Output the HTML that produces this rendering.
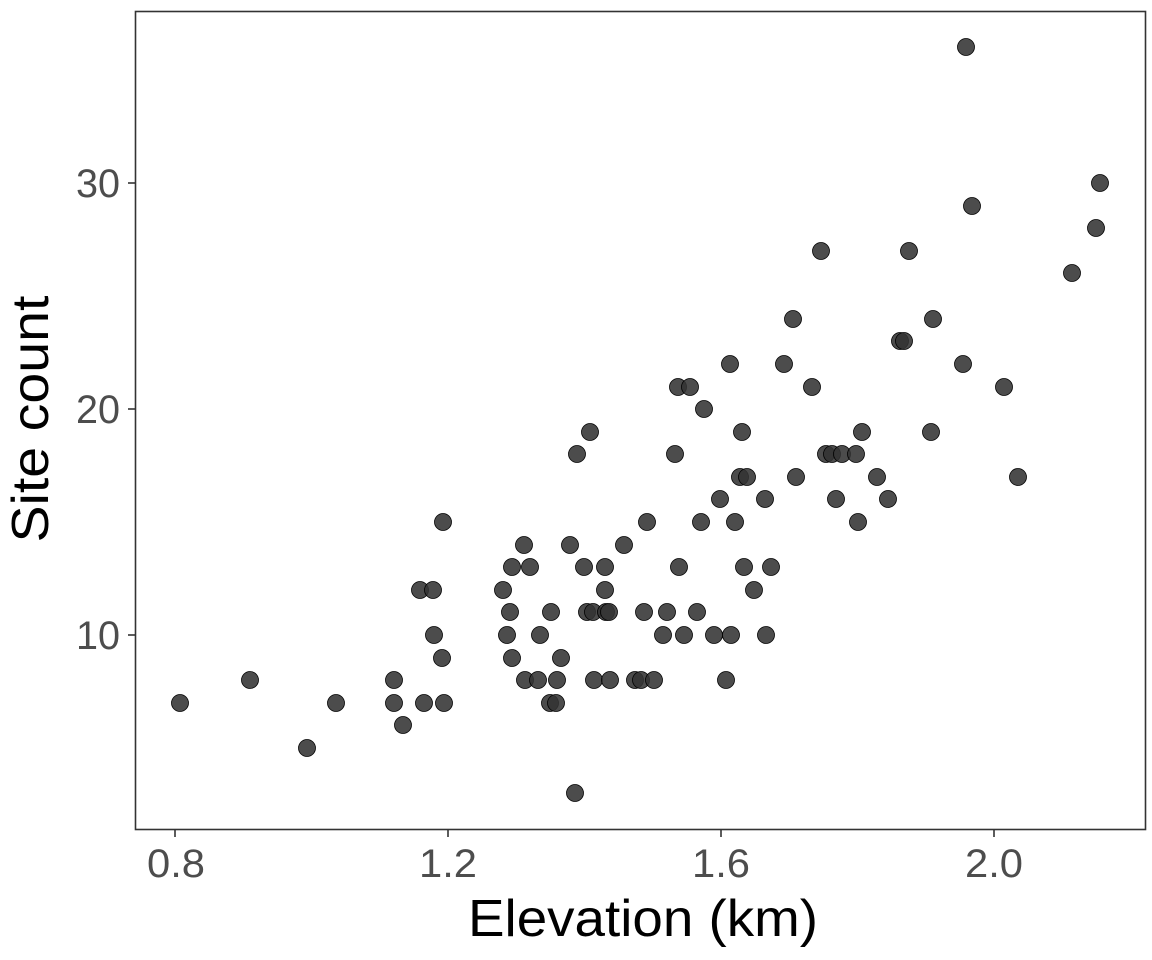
<!DOCTYPE html>
<html><head><meta charset="utf-8"><style>
html,body{margin:0;padding:0;background:#fff;}
svg{display:block;}
text{font-family:"Liberation Sans",sans-serif;}
</style></head><body>
<svg width="1152" height="960" viewBox="0 0 1152 960" xmlns="http://www.w3.org/2000/svg">
<rect x="0" y="0" width="1152" height="960" fill="#fff"/>
<g fill="#333" fill-opacity="0.88" stroke="#000" stroke-width="0.8">
<circle cx="180" cy="703" r="8.5"/><circle cx="250" cy="680" r="8.5"/><circle cx="307" cy="748" r="8.5"/><circle cx="336" cy="703" r="8.5"/><circle cx="394" cy="680" r="8.5"/><circle cx="394" cy="703" r="8.5"/><circle cx="403" cy="725" r="8.5"/><circle cx="420" cy="590" r="8.5"/><circle cx="424" cy="703" r="8.5"/><circle cx="433" cy="590" r="8.5"/><circle cx="434" cy="635" r="8.5"/><circle cx="442" cy="658" r="8.5"/><circle cx="443" cy="522" r="8.5"/><circle cx="444" cy="703" r="8.5"/>
<circle cx="503" cy="590" r="8.5"/><circle cx="507" cy="635" r="8.5"/><circle cx="510" cy="612" r="8.5"/><circle cx="512" cy="567" r="8.5"/><circle cx="512" cy="658" r="8.5"/><circle cx="524" cy="545" r="8.5"/><circle cx="525" cy="680" r="8.5"/><circle cx="530" cy="567" r="8.5"/><circle cx="538" cy="680" r="8.5"/><circle cx="540" cy="635" r="8.5"/><circle cx="551" cy="612" r="8.5"/><circle cx="550" cy="703" r="8.5"/><circle cx="556" cy="703" r="8.5"/><circle cx="557" cy="680" r="8.5"/><circle cx="561" cy="658" r="8.5"/><circle cx="570" cy="545" r="8.5"/><circle cx="577" cy="454" r="8.5"/><circle cx="575" cy="793" r="8.5"/><circle cx="584" cy="567" r="8.5"/><circle cx="587" cy="612" r="8.5"/><circle cx="590" cy="432" r="8.5"/><circle cx="593" cy="612" r="8.5"/><circle cx="594" cy="680" r="8.5"/><circle cx="605" cy="590" r="8.5"/><circle cx="605" cy="567" r="8.5"/><circle cx="606" cy="612" r="8.5"/><circle cx="609" cy="612" r="8.5"/><circle cx="610" cy="680" r="8.5"/><circle cx="624" cy="545" r="8.5"/><circle cx="635" cy="680" r="8.5"/><circle cx="641" cy="680" r="8.5"/><circle cx="644" cy="612" r="8.5"/><circle cx="647" cy="522" r="8.5"/><circle cx="654" cy="680" r="8.5"/><circle cx="663" cy="635" r="8.5"/><circle cx="667" cy="612" r="8.5"/><circle cx="675" cy="454" r="8.5"/><circle cx="678" cy="387" r="8.5"/><circle cx="679" cy="567" r="8.5"/><circle cx="684" cy="635" r="8.5"/><circle cx="690" cy="387" r="8.5"/><circle cx="697" cy="612" r="8.5"/><circle cx="701" cy="522" r="8.5"/><circle cx="704" cy="409" r="8.5"/><circle cx="714" cy="635" r="8.5"/><circle cx="720" cy="499" r="8.5"/><circle cx="726" cy="680" r="8.5"/><circle cx="730" cy="364" r="8.5"/><circle cx="731" cy="635" r="8.5"/><circle cx="735" cy="522" r="8.5"/><circle cx="740" cy="477" r="8.5"/><circle cx="742" cy="432" r="8.5"/><circle cx="744" cy="567" r="8.5"/><circle cx="747" cy="477" r="8.5"/><circle cx="754" cy="590" r="8.5"/><circle cx="765" cy="499" r="8.5"/><circle cx="766" cy="635" r="8.5"/><circle cx="771" cy="567" r="8.5"/><circle cx="784" cy="364" r="8.5"/><circle cx="793" cy="319" r="8.5"/><circle cx="796" cy="477" r="8.5"/><circle cx="812" cy="387" r="8.5"/><circle cx="821" cy="251" r="8.5"/><circle cx="826" cy="454" r="8.5"/><circle cx="832" cy="454" r="8.5"/><circle cx="836" cy="499" r="8.5"/><circle cx="842" cy="454" r="8.5"/><circle cx="856" cy="454" r="8.5"/><circle cx="858" cy="522" r="8.5"/><circle cx="862" cy="432" r="8.5"/><circle cx="877" cy="477" r="8.5"/><circle cx="888" cy="499" r="8.5"/><circle cx="900" cy="341" r="8.5"/><circle cx="904" cy="341" r="8.5"/><circle cx="909" cy="251" r="8.5"/><circle cx="931" cy="432" r="8.5"/><circle cx="933" cy="319" r="8.5"/><circle cx="963" cy="364" r="8.5"/><circle cx="966" cy="47" r="8.5"/><circle cx="972" cy="206" r="8.5"/><circle cx="1004" cy="387" r="8.5"/><circle cx="1018" cy="477" r="8.5"/><circle cx="1072" cy="273" r="8.5"/><circle cx="1096" cy="228" r="8.5"/><circle cx="1100" cy="183" r="8.5"/>
</g>
<rect x="135.5" y="11.5" width="1010" height="818" fill="none" stroke="#333" stroke-width="1.6"/>
<g stroke="#333" stroke-width="1.6">
<line x1="128" y1="183" x2="135" y2="183"/><line x1="128" y1="409" x2="135" y2="409"/><line x1="128" y1="635" x2="135" y2="635"/>
<line x1="175" y1="830" x2="175" y2="837"/><line x1="448" y1="830" x2="448" y2="837"/><line x1="721" y1="830" x2="721" y2="837"/><line x1="994" y1="830" x2="994" y2="837"/>
</g>
<g fill="#4d4d4d" font-size="40" text-anchor="end">
<text x="120" y="197" textLength="44" lengthAdjust="spacingAndGlyphs">30</text><text x="120" y="423" textLength="44" lengthAdjust="spacingAndGlyphs">20</text><text x="120" y="649" textLength="44" lengthAdjust="spacingAndGlyphs">10</text>
</g>
<g fill="#4d4d4d" font-size="40" text-anchor="middle">
<text x="176" y="877" textLength="58" lengthAdjust="spacingAndGlyphs">0.8</text><text x="448" y="877" textLength="58" lengthAdjust="spacingAndGlyphs">1.2</text><text x="721" y="877" textLength="58" lengthAdjust="spacingAndGlyphs">1.6</text><text x="994" y="877" textLength="58" lengthAdjust="spacingAndGlyphs">2.0</text>
</g>
<text x="643" y="936" font-size="52" text-anchor="middle" fill="#000" textLength="350" lengthAdjust="spacingAndGlyphs">Elevation (km)</text>
<text transform="translate(48,419) rotate(-90)" font-size="52" text-anchor="middle" fill="#000" textLength="247" lengthAdjust="spacingAndGlyphs">Site count</text>
</svg>
</body></html>
